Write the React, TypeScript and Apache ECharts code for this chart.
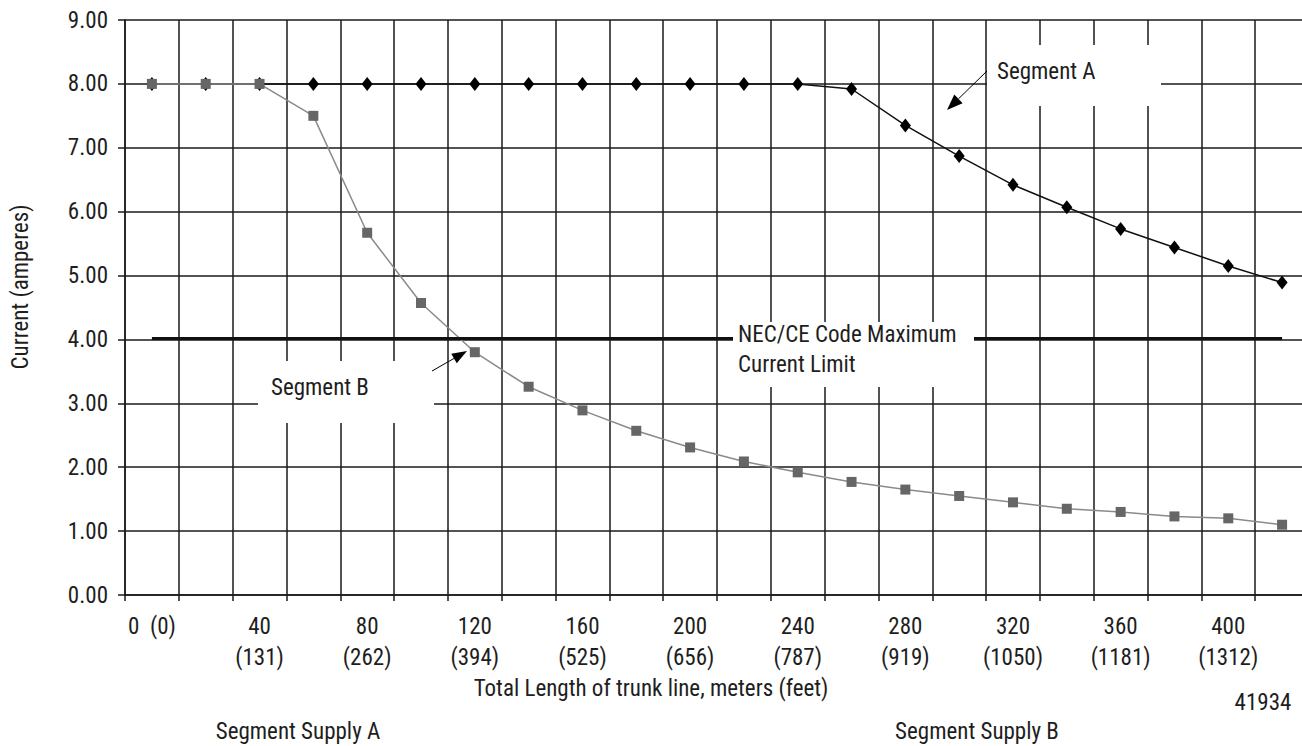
import React, { useEffect, useRef } from "react";
import * as echarts from "echarts";

// ---- data ----
const lengthsM = ["0", "20", "40", "60", "80", "100", "120", "140", "160", "180", "200", "220", "240", "260", "280", "300", "320", "340", "360", "380", "400", "420"];
const tickMeters = ["0", "40", "80", "120", "160", "200", "240", "280", "320", "360", "400"];
const tickFeet = ["(0)", "(131)", "(262)", "(394)", "(525)", "(656)", "(787)", "(919)", "(1050)", "(1181)", "(1312)"];
const segmentA = [8, 8, 8, 8, 8, 8, 8, 8, 8, 8, 8, 8, 8, 7.92, 7.35, 6.87, 6.42, 6.07, 5.73, 5.44, 5.15, 4.89];
const segmentB = [8, 8, 8, 7.5, 5.67, 4.57, 3.8, 3.26, 2.89, 2.57, 2.31, 2.09, 1.92, 1.77, 1.65, 1.55, 1.45, 1.35, 1.3, 1.23, 1.2, 1.1];
const necLimit = 4.02;
const yMin = 0;
const yMax = 9;
const yStep = 1;

const FONT = "'Liberation Sans Narrow', 'Arial Narrow', 'Roboto Condensed', 'Helvetica Neue', sans-serif";
const TXT = "#1e1e1e";

function arrow(x1: number, y1: number, x2: number, y2: number, len: number, w: number) {
  const dx = x2 - x1;
  const dy = y2 - y1;
  const d = Math.sqrt(dx * dx + dy * dy);
  const ux = dx / d;
  const uy = dy / d;
  const bx = x2 - ux * len;
  const by = y2 - uy * len;
  const px = -uy * (w / 2);
  const py = ux * (w / 2);
  return [
    { type: "line", z: 12, shape: { x1, y1, x2: bx, y2: by }, style: { stroke: "#000", lineWidth: 1 } },
    {
      type: "polygon",
      z: 12,
      shape: { points: [[x2, y2], [bx + px, by + py], [bx - px, by - py]] },
      style: { fill: "#000" },
    },
  ];
}

function text(x: number, y: number, t: string, extra: any = {}) {
  return {
    type: "text",
    x,
    y,
    z: 11,
    rotation: extra.rotation || 0,
    style: {
      text: t,
      fontFamily: FONT,
      fontSize: 23,
      fill: TXT,
      align: extra.align || "center",
      verticalAlign: "middle",
      lineHeight: extra.lineHeight || 30,
    },
  };
}

export default function App() {
  const ref = useRef<HTMLDivElement>(null);

  useEffect(() => {
    if (!ref.current) return;
    document.body.style.overflow = "hidden";
    const chart = echarts.init(ref.current, undefined, { renderer: "svg" });

    const option: any = {
      animation: false,
      backgroundColor: "#fff",
      textStyle: { fontFamily: FONT },
      grid: { left: 125, top: 20, width: 1184, height: 575, containLabel: false },
      xAxis: {
        type: "category",
        data: lengthsM,
        boundaryGap: true,
        axisLine: { show: true, lineStyle: { color: "#1a1a1a", width: 1.5 } },
        axisTick: { show: true, interval: 0, length: 6, lineStyle: { color: "#1a1a1a", width: 1.5 } },
        splitLine: { show: true, interval: 0, lineStyle: { color: "#1a1a1a", width: 1.5 } },
        axisLabel: {
          interval: 0,
          margin: 16,
          fontFamily: FONT,
          fontSize: 23,
          lineHeight: 31,
          color: TXT,
          formatter: (v: string) => {
            const i = tickMeters.indexOf(v);
            if (i < 0) return "";
            if (i === 0) return `${v}  ${tickFeet[i]}`;
            return `${v}\n${tickFeet[i]}`;
          },
        },
      },
      yAxis: {
        type: "value",
        min: yMin,
        max: yMax,
        interval: yStep,
        axisLine: { show: true, lineStyle: { color: "#1a1a1a", width: 1.5 } },
        axisTick: { show: true, length: 7, lineStyle: { color: "#1a1a1a", width: 1.5 } },
        splitLine: { show: true, lineStyle: { color: "#1a1a1a", width: 1.5 } },
        axisLabel: {
          margin: 17,
          fontFamily: FONT,
          fontSize: 23,
          color: TXT,
          formatter: (v: number) => v.toFixed(2),
        },
      },
      series: [
        {
          name: "Segment A",
          type: "line",
          data: segmentA,
          z: 2,
          symbol: "diamond",
          symbolSize: [11, 14],
          itemStyle: { color: "#000" },
          lineStyle: { color: "#111", width: 1.5 },
        },
        {
          name: "Segment B",
          type: "line",
          data: segmentB,
          z: 3,
          symbol: "rect",
          symbolSize: 10,
          itemStyle: { color: "#666" },
          lineStyle: { color: "#8a8a8a", width: 1.5 },
          markLine: {
            silent: true,
            symbol: "none",
            label: { show: false },
            lineStyle: { color: "#111", width: 3, type: "solid" },
            data: [[{ coord: [lengthsM[0], necLimit] }, { coord: [lengthsM[lengthsM.length - 1], necLimit] }]],
          },
        },
      ],
      graphic: [
        // white annotation boxes
        { type: "rect", z: 10, shape: { x: 987, y: 45, width: 174, height: 61 }, style: { fill: "#fff" } },
        { type: "rect", z: 10, shape: { x: 258, y: 361, width: 176, height: 62 }, style: { fill: "#fff" } },
        { type: "rect", z: 10, shape: { x: 733, y: 322, width: 241, height: 65 }, style: { fill: "#fff" } },
        text(997, 71, "Segment A", { align: "left" }),
        text(271, 387, "Segment B", { align: "left" }),
        text(738, 349, "NEC/CE Code Maximum\nCurrent Limit", { align: "left", lineHeight: 30 }),
        ...arrow(987, 71, 947, 110, 16, 12),
        ...arrow(432, 371, 467, 351, 15, 11),
        text(20, 287, "Current (amperes)", { rotation: Math.PI / 2 }),
        text(651, 688, "Total Length of trunk line, meters (feet)"),
        text(1263, 702, "41934"),
        text(298, 731, "Segment Supply A", { lineHeight: 24 }),
        text(977, 731, "Segment Supply B", { lineHeight: 24 }),
      ],
    };

    chart.setOption(option);
    return () => chart.dispose();
  }, []);

  return (
    <div
      ref={ref}
      style={{ position: "fixed", left: 0, top: 0, width: 1310, height: 746, background: "#fff" }}
    />
  );
}
